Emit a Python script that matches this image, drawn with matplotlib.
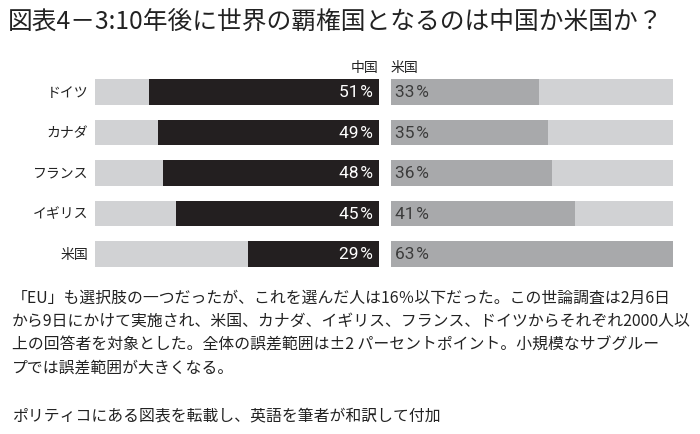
import matplotlib
matplotlib.use("Agg")
import matplotlib.pyplot as plt

plt.rcParams['font.family'] = ['Noto Sans CJK JP', 'DejaVu Sans']

countries = ["ドイツ", "カナダ", "フランス", "イギリス", "米国"]
china = [51, 49, 48, 45, 29]
usa = [33, 35, 36, 41, 63]
series_labels = ["中国", "米国"]
title = "図表4－3:10年後に世界の覇権国となるのは中国か米国か？"
notes = [
    "「EU」も選択肢の一つだったが、これを選んだ人は16％以下だった。この世論調査は2月6日",
    "から9日にかけて実施され、米国、カナダ、イギリス、フランス、ドイツからそれぞれ2000人以",
    "上の回答者を対象とした。全体の誤差範囲は±2 パーセントポイント。小規模なサブグルー",
    "プでは誤差範囲が大きくなる。",
]
source = "ポリティコにある図表を転載し、英語を筆者が和訳して付加"

num_family = ["Roboto", "DejaVu Sans"]

W, H = 700, 435
fig = plt.figure(figsize=(W / 100, H / 100), dpi=100)
fig.patch.set_facecolor("white")

BLACK = "#231f20"
BG = "#d1d2d4"
GREY = "#a8a9ab"
XMAX = 63

def px_axes(x0, y0, x1, y1):
    return fig.add_axes([x0 / W, 1 - y1 / H, (x1 - x0) / W, (y1 - y0) / H])

row_top = 92.8 - 40.5 / 2
row_bot = 254.8 + 40.5 / 2
axL = px_axes(95, row_top, 379, row_bot)
axR = px_axes(391, row_top, 673, row_bot)

ys = list(range(len(countries)))
bh = 25.5 / 40.5
for ax in (axL, axR):
    ax.set_xlim(0, XMAX)
    ax.set_ylim(len(countries) - 0.5, -0.5)
    ax.barh(ys, [XMAX] * len(ys), height=bh, color=BG, edgecolor="none")
    ax.axis("off")

axL.invert_xaxis()
axL.barh(ys, china, height=bh, color=BLACK, edgecolor="none")
axR.barh(ys, usa, height=bh, color=GREY, edgecolor="none")

for y, c, u, name in zip(ys, china, usa, countries):
    axL.text(1.4, y, f"{c}\u200a%", color="white", fontsize=12.5, ha="right", va="center",
             family=num_family)
    axR.text(0.8, y, f"{u}\u200a%", color="#3c3c3c", fontsize=12.5, ha="left", va="center",
             family=num_family)
    fig.text(88 / W, 1 - (92.8 + 40.5 * y) / H, name, fontsize=10, ha="right", va="center",
             color="#222222")

fig.text(378 / W, 1 - 68 / H, series_labels[0], fontsize=10, ha="right", va="center", color="#222222")
fig.text(391 / W, 1 - 68 / H, series_labels[1], fontsize=10, ha="left", va="center", color="#222222")

fig.text(8 / W, 1 - 22 / H, title, fontsize=17.8, ha="left", va="center", color="#222222")

for i, line in enumerate(notes):
    fig.text(12 / W, 1 - (298 + 23.5 * i) / H, line, fontsize=11.4, ha="left", va="center", color="#222222")
fig.text(12 / W, 1 - 416 / H, source, fontsize=11.4, ha="left", va="center", color="#222222")

fig.savefig("out.png", dpi=100, facecolor="white")
